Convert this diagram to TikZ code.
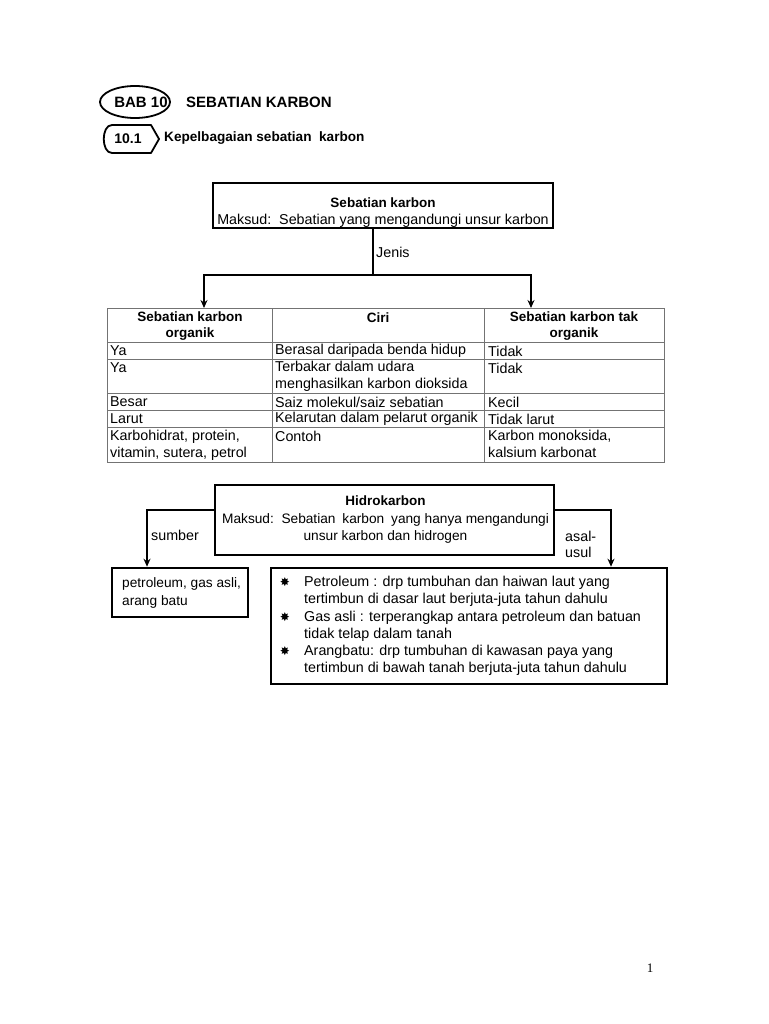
\documentclass[tikz,border=0pt]{standalone}
\usepackage{fontspec}
\setmainfont{Liberation Sans}
\newfontfamily\seriffont{Liberation Serif}
\newfontfamily\symfont{DejaVu Sans}
\usetikzlibrary{arrows.meta,shapes.geometric}
\newcommand{\bul}{{\symfont\fontsize{12}{12}\selectfont ✸}}
\begin{document}
\begin{tikzpicture}[x=1pt,y=-1pt,
 box/.style={draw, line width=2.6pt, inner sep=0pt},
 conn/.style={line width=2.2pt, -{Stealth[length=8pt,width=7pt]}},
 plain/.style={line width=2.2pt},
 txt/.style={font=\fontsize{14.3}{17}\selectfont, inner sep=0pt},
 hd/.style={font=\bfseries\fontsize{13.5}{16.5}\selectfont, inner sep=0pt},
 big/.style={font=\bfseries\fontsize{15}{18}\selectfont, inner sep=0pt},
 gridline/.style={draw=black!55, line width=0.8pt}]
\useasboundingbox (0,0) rectangle (768,1024);

% ---- heading
\node[draw, ellipse, line width=1.8pt, minimum width=70, minimum height=32] (bab) at (135,102) {};
\node[big] (babt) at (141,102) {BAB 10};
\node[big, anchor=west] (title) at (186,102) {SEBATIAN KARBON};

\node[font=\bfseries\fontsize{14}{16}\selectfont, inner sep=0pt] (sec) at (128,139) {10.1};
\draw[line width=1.8pt, line join=round] (151,125) -- (112,125) .. controls (101,125) and (101,153) .. (112,153) -- (151,153) -- (159,139) -- cycle;
\node[font=\bfseries\fontsize{13.6}{16}\selectfont, inner sep=0pt, anchor=west] (sect) at (164,138) {Kepelbagaian sebatian\ \ karbon};

% ---- top box
\node[box, minimum width=340, minimum height=45] (sk) at (383,205.5) {};
\node[txt, align=center] (skt) at (383,213) {\textbf{\fontsize{13.5}{17}\selectfont Sebatian karbon}\\Maksud:\ \ Sebatian yang mengandungi unsur karbon};

\coordinate (j) at (373,275);
\coordinate (jl) at (204,275);
\coordinate (jr) at (531,275);
\coordinate (tabtop) at (0,308);
\draw[plain] (sk.south -| j) -- (j);
\draw[conn] (j) -- (jl) -- (jl |- tabtop);
\draw[conn] (j) -- (jr) -- (jr |- tabtop);
\node[txt, anchor=west] (jenis) at (376,252) {Jenis};

% ---- table
\draw[gridline] (107,308) rectangle (664,462);
\draw[gridline] (272,308) -- (272,462) (484,308) -- (484,462);
\draw[gridline] (107,342) -- (664,342) (107,359) -- (664,359) (107,393) -- (664,393) (107,410) -- (664,410) (107,427) -- (664,427);

\node[hd, align=center] (h1) at (190,326) {Sebatian karbon\\organik};
\node[hd] (h2) at (378,317.5) {Ciri};
\node[hd, align=center] (h3) at (574,326) {Sebatian karbon tak\\organik};

\node[txt, anchor=west] (a1) at (110,351) {Ya};
\node[txt, anchor=west] (b1) at (275,351) {Berasal daripada benda hidup};
\node[txt, anchor=west] (c1) at (488,351) {Tidak};

\node[txt, anchor=west] (a2) at (110,368) {Ya};
\node[txt, anchor=north west, align=left] (b2) at (275,361) {Terbakar dalam udara\\menghasilkan karbon dioksida};
\node[txt, anchor=west] (c2) at (488,368) {Tidak};

\node[txt, anchor=west] (a3) at (110,402) {Besar};
\node[txt, anchor=west] (b3) at (275,402) {Saiz molekul/saiz sebatian};
\node[txt, anchor=west] (c3) at (488,402) {Kecil};

\node[txt, anchor=west] (a4) at (110,419) {Larut};
\node[txt, anchor=west] (b4) at (275,419) {Kelarutan dalam pelarut organik};
\node[txt, anchor=west] (c4) at (488,419) {Tidak larut};

\node[txt, anchor=north west, align=left] (a5) at (110,429.5) {Karbohidrat, protein,\\vitamin, sutera, petrol};
\node[txt, anchor=west] (b5) at (275,436.5) {Contoh};
\node[txt, anchor=north west, align=left] (c5) at (488,429.5) {Karbon monoksida,\\kalsium karbonat};

% ---- hidrokarbon
\node[box, minimum width=339, minimum height=70] (hk) at (384.5,520) {};
\node[txt, align=center, font=\fontsize{13.7}{17.5}\selectfont] (hkt) at (385.5,520) {\textbf{\fontsize{13.5}{17.5}\selectfont Hidrokarbon}\\Maksud:\ \ Sebatian\enspace karbon\enspace yang hanya mengandungi\\unsur karbon dan hidrogen};

\node[box, minimum width=136, minimum height=49] (sb) at (180,592.5) {};
\node[txt, anchor=north west, align=left, font=\fontsize{13.7}{18}\selectfont] (sbt) at (122,577) {petroleum, gas asli,\\arang batu};

\node[box, minimum width=396, minimum height=116] (ab) at (469,626) {};

\coordinate (sl) at (147,510);
\coordinate (ar) at (611,510);
\draw[conn] (hk.west |- sl) -- (sl) -- (sl |- sb.north);
\draw[conn] (hk.east |- ar) -- (ar) -- (ar |- ab.north);
\node[txt, anchor=west] (sumber) at (151,535) {sumber};
\node[txt, anchor=west, align=left, font=\fontsize{14.3}{16}\selectfont] (asal) at (565,544) {asal-\\usul};

\node[inner sep=0pt] (k1) at (285,582) {\bul};
\node[inner sep=0pt] (k2) at (285,617) {\bul};
\node[inner sep=0pt] (k3) at (285,651) {\bul};
\node[txt, anchor=north west, align=left] (t1) at (304,576) {Petroleum : drp tumbuhan dan haiwan laut yang\\tertimbun di dasar laut berjuta-juta tahun dahulu};
\node[txt, anchor=north west, align=left] (t2) at (304,611) {Gas asli : terperangkap antara petroleum dan batuan\\tidak telap dalam tanah};
\node[txt, anchor=north west, align=left] (t3) at (304,645) {Arangbatu: drp tumbuhan di kawasan paya yang\\tertimbun di bawah tanah berjuta-juta tahun dahulu};

% ---- page number
\node[font=\seriffont\fontsize{13}{13}\selectfont, inner sep=0pt] (pg) at (650,968) {1};
\end{tikzpicture}
\end{document}
